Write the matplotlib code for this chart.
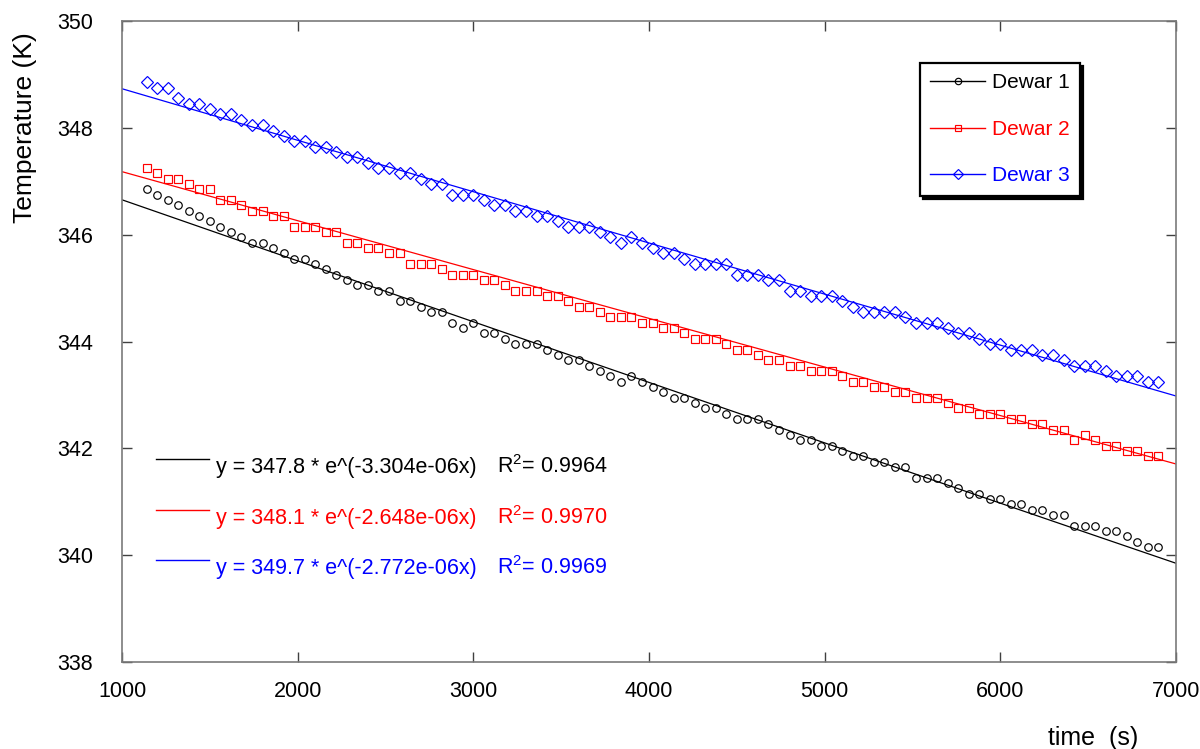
import numpy as np
import matplotlib
matplotlib.use('Agg')
import matplotlib.pyplot as plt
from matplotlib.lines import Line2D

# ---------------- data ----------------
time_s = list(range(1140, 6901, 60))   # sampling times (s)

dewar1 = [346.85, 346.75, 346.65, 346.55, 346.45, 346.35, 346.25, 346.15, 346.05, 345.95,
          345.85, 345.85, 345.75, 345.65, 345.55, 345.55, 345.45,
          345.35, 345.25, 345.15, 345.05, 345.05, 344.95, 344.95, 344.75, 344.75, 344.65,
          344.55, 344.55, 344.35, 344.25, 344.35, 344.15, 344.15, 344.05,
          343.95, 343.95, 343.95, 343.85, 343.75, 343.65, 343.65, 343.55, 343.45, 343.35,
          343.25, 343.35, 343.25, 343.15, 343.05, 342.95, 342.95, 342.85, 342.75,
          342.75, 342.65, 342.55, 342.55, 342.55, 342.45, 342.35, 342.25, 342.15, 342.15,
          342.05, 342.05, 341.95, 341.85, 341.85, 341.75, 341.75, 341.65,
          341.65, 341.45, 341.45, 341.45, 341.35, 341.25, 341.15, 341.15, 341.05, 341.05,
          340.95, 340.95, 340.85, 340.85, 340.75, 340.75, 340.55, 340.55, 340.55, 340.45,
          340.45, 340.35, 340.25, 340.15, 340.15]

dewar2 = [347.25, 347.15, 347.05, 347.05, 346.95, 346.85, 346.85, 346.65, 346.65, 346.55,
          346.45, 346.45, 346.35, 346.35, 346.15, 346.15, 346.15, 346.05,
          346.05, 345.85, 345.85, 345.75, 345.75, 345.65, 345.65, 345.45, 345.45, 345.45,
          345.35, 345.25, 345.25, 345.25, 345.15, 345.15, 345.05, 344.95,
          344.95, 344.95, 344.85, 344.85, 344.75, 344.65, 344.65, 344.55, 344.45, 344.45,
          344.45, 344.35, 344.35, 344.25, 344.25, 344.15, 344.05, 344.05,
          344.05, 343.95, 343.85, 343.85, 343.75, 343.65, 343.65, 343.55, 343.55, 343.45,
          343.45, 343.45, 343.35, 343.25, 343.25, 343.15, 343.15, 343.05,
          343.05, 342.95, 342.95, 342.95, 342.85, 342.75, 342.75, 342.65, 342.65, 342.65,
          342.55, 342.55, 342.45, 342.45, 342.35, 342.35, 342.15, 342.25, 342.15, 342.05,
          342.05, 341.95, 341.95, 341.85, 341.85]

dewar3 = [348.85, 348.75, 348.75, 348.55, 348.45, 348.45, 348.35, 348.25, 348.25, 348.15,
          348.05, 348.05, 347.95, 347.85, 347.75, 347.75, 347.65, 347.65,
          347.55, 347.45, 347.45, 347.35, 347.25, 347.25, 347.15, 347.15, 347.05, 346.95,
          346.95, 346.75, 346.75, 346.75, 346.65, 346.55, 346.55, 346.45,
          346.45, 346.35, 346.35, 346.25, 346.15, 346.15, 346.15, 346.05, 345.95, 345.85,
          345.95, 345.85, 345.75, 345.65, 345.65, 345.55, 345.45, 345.45,
          345.45, 345.45, 345.25, 345.25, 345.25, 345.15, 345.15, 344.95, 344.95, 344.85,
          344.85, 344.85, 344.75, 344.65, 344.55, 344.55, 344.55, 344.55,
          344.45, 344.35, 344.35, 344.35, 344.25, 344.15, 344.15, 344.05, 343.95, 343.95,
          343.85, 343.85, 343.85, 343.75, 343.75, 343.65, 343.55, 343.55, 343.55, 343.45,
          343.35, 343.35, 343.35, 343.25, 343.25]

series_labels = ['Dewar 1', 'Dewar 2', 'Dewar 3']
fit_a = [347.8, 348.1, 349.7]
fit_b = [3.304e-06, 2.648e-06, 2.772e-06]
fit_b_text = ['3.304e-06', '2.648e-06', '2.772e-06']
fit_r2 = ['0.9964', '0.9970', '0.9969']
x_ticks = [1000, 2000, 3000, 4000, 5000, 6000, 7000]
y_ticks = [338, 340, 342, 344, 346, 348, 350]

# ---------------- style ----------------
plt.rcParams['font.family'] = ['Liberation Sans', 'DejaVu Sans']
plt.rcParams['mathtext.fontset'] = 'custom'
plt.rcParams['mathtext.rm'] = 'Liberation Sans'
plt.rcParams['mathtext.it'] = 'Liberation Sans:italic'

colors = ['#000000', '#ff0000', '#0000ff']
markers = ['o', 's', 'D']
msizes = [5.4, 5.8, 6.2]

fig = plt.figure(figsize=(12, 7.49), dpi=100)
ax = fig.add_axes([122 / 1200, 1 - 662 / 749, 1054 / 1200, 641 / 749])

series = [dewar1, dewar2, dewar3]
t_fit = np.linspace(1000, 7000, 300)
for vals, c, m, ms, a, b in zip(series, colors, markers, msizes, fit_a, fit_b):
    ax.plot(time_s, vals, linestyle='none', marker=m, markersize=ms,
            markerfacecolor='none', markeredgecolor=c, markeredgewidth=0.85)
    ax.plot(t_fit, a * np.exp(-b * t_fit), color=c, linewidth=0.9)

ax.set_xlim(1000, 7000)
ax.set_ylim(338, 350)
ax.set_xticks(x_ticks)
ax.set_yticks(y_ticks)
ax.tick_params(axis='both', direction='in', length=7, width=1.0, color='#404040',
               labelsize=15.5, top=True, right=True)
ax.tick_params(axis='x', pad=14)
ax.tick_params(axis='y', pad=21)
for sp in ax.spines.values():
    sp.set_color('#7a7a7a')
    sp.set_linewidth(1.2)

ax.set_xlabel('time  (s)', fontsize=18)
ax.xaxis.label.set_va('center')
ax.xaxis.set_label_coords((1093 - 122) / 1054, (662 - 738) / 640)
ax.set_ylabel('Temperature (K)', fontsize=19)
ax.yaxis.label.set_va('center')
ax.yaxis.set_label_coords((25 - 122) / 1054, (662 - 128) / 640)

# legend
handles = [Line2D([], [], color=c, marker=m, markersize=ms - 0.8, markerfacecolor='none',
                  markeredgecolor=c, markeredgewidth=0.85, linewidth=1.0)
           for c, m, ms in zip(colors, markers, msizes)]
leg = ax.legend(handles, series_labels, loc='upper left',
                bbox_to_anchor=(920 / 1200, 1 - 63 / 749), bbox_transform=fig.transFigure,
                borderaxespad=0, fontsize=15, labelcolor='linecolor', frameon=True,
                fancybox=False, edgecolor='black', framealpha=1,
                shadow={'facecolor': 'black', 'edgecolor': 'black', 'alpha': 1},
                borderpad=0.5, labelspacing=1.32, handlelength=2.6, handletextpad=0.35)
leg.get_frame().set_linewidth(1.6)

# fit equations
line_y = [(662 - 459) / 640, (662 - 510) / 640, (662 - 560) / 640]
text_y = [(662 - 473.3) / 640, (662 - 524) / 640, (662 - 574) / 640]
for c, a, bt, r2, ly, ty in zip(colors, fit_a, fit_b_text, fit_r2, line_y, text_y):
    ax.plot([(156 - 122) / 1054, (209 - 122) / 1054], [ly, ly], color=c, linewidth=1.0,
            transform=ax.transAxes)
    ax.text((216 - 122) / 1054, ty, f'y = {a} * e^(-{bt}x)', color=c, fontsize=15.5,
            transform=ax.transAxes, ha='left', va='baseline')
    ax.text((497 - 122) / 1054, ty, r'R$^{\mathrm{2}}$= ' + r2, color=c, fontsize=15.5,
            transform=ax.transAxes, ha='left', va='baseline')

fig.savefig('out.png', dpi=100)
